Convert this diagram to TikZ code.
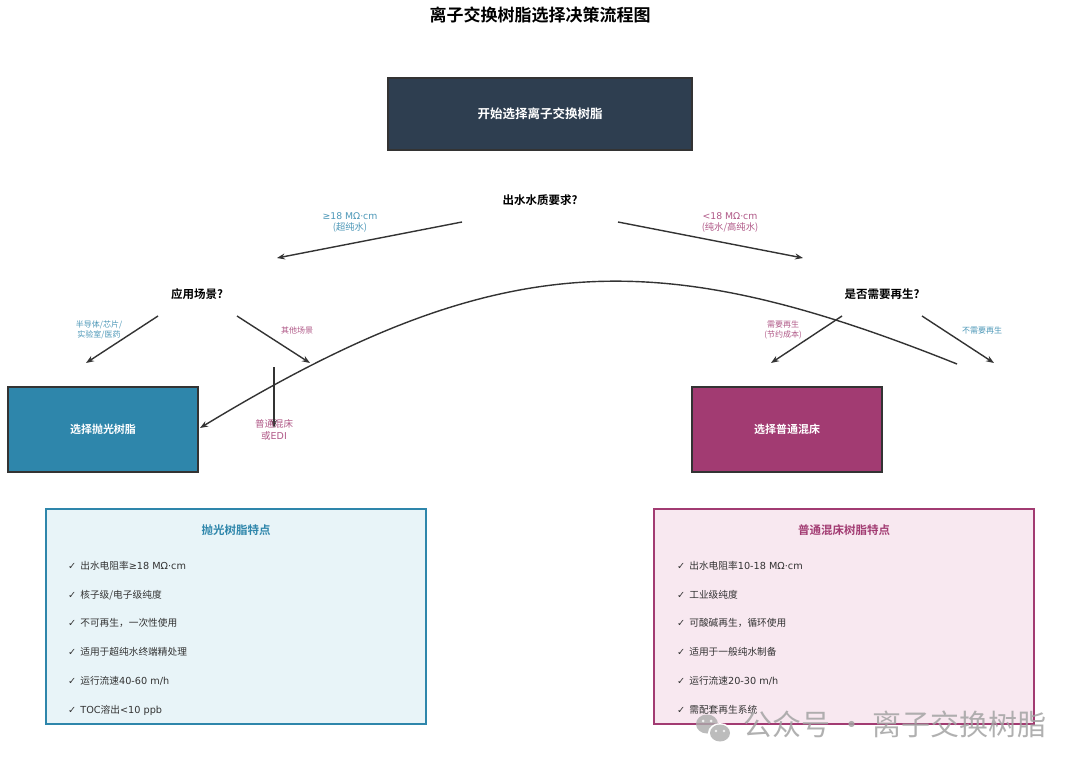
\documentclass[tikz,border=0pt]{standalone}
\usepackage{fontspec}
\setmainfont{Noto Sans CJK SC}[BoldFont={Noto Sans CJK SC Bold}]
\newfontfamily\djv{DejaVu Sans}
\usetikzlibrary{arrows.meta}
\definecolor{cblue}{HTML}{2E86AB}
\definecolor{cmag}{HTML}{A23B72}
\definecolor{cdark}{HTML}{2E3E50}
\definecolor{cline}{HTML}{333333}
\definecolor{lblue}{HTML}{E8F4F8}
\definecolor{lmag}{HTML}{F8E8F0}
\definecolor{ctext}{HTML}{333333}
\newcommand{\lt}[1]{{\djv #1}}
\begin{document}
\begin{tikzpicture}[x=1pt,y=-1pt,
  solidbox/.style={draw=cline, line width=1.6pt, inner sep=0pt, text=white,
    font=\bfseries\fontsize{11}{13}\selectfont},
  infobox/.style={line width=2pt, inner sep=0pt, minimum width=380pt, minimum height=215pt},
  question/.style={font=\bfseries\fontsize{11.5}{13}\selectfont, text=black, inner sep=1pt},
  elabel/.style={font=\fontsize{9.3}{11}\selectfont, align=center, inner sep=0pt},
  slabel/.style={font=\fontsize{8}{10}\selectfont, align=center, inner sep=0pt},
  flow/.style={draw=cline, line width=1.4pt, -{Stealth[length=8pt,width=6pt]}},
  item/.style={font=\fontsize{9.7}{11}\selectfont, text=ctext, anchor=west, inner sep=0pt},
  infotitle/.style={font=\bfseries\fontsize{11.5}{13}\selectfont, inner sep=0pt}
]
\useasboundingbox[fill=white] (0,0) rectangle (1080,768);

% title
\node[font=\bfseries\fontsize{17}{20}\selectfont, text=black] (title) at (540,15) {离子交换树脂选择决策流程图};

% start
\node[solidbox, fill=cdark, minimum width=304pt, minimum height=72pt, font=\bfseries\fontsize{12.5}{14}\selectfont] (start) at (540,114) {开始选择离子交换树脂};

% questions
\node[question] (q1) at (540,200) {出水水质要求?};
\node[question] (q2) at (197,294) {应用场景?};
\node[question] (q3) at (882,294) {是否需要再生?};

% result boxes
\node[solidbox, fill=cblue, minimum width=190pt, minimum height=85pt] (polish) at (103,429.5) {选择抛光树脂};
\node[solidbox, fill=cmag, minimum width=190pt, minimum height=85pt] (mixbed) at (787,429.5) {选择普通混床};

% connector coordinates
\coordinate (q1l) at (462,222); \coordinate (q1le) at (277,258);
\coordinate (q1r) at (618,222); \coordinate (q1re) at (803,258);
\coordinate (q2l) at (158,316); \coordinate (q2le) at (86,363);
\coordinate (q2r) at (237,316); \coordinate (q2re) at (310,363);
\coordinate (v1) at (274,367); \coordinate (v1e) at (274,428);
\coordinate (q3l) at (842,316); \coordinate (q3le) at (771,363);
\coordinate (q3r) at (922,316); \coordinate (q3re) at (994,363);
\coordinate (cs) at (957,364); \coordinate (ce) at (200,428);

\draw[flow] (q1l) -- (q1le);
\draw[flow] (q1r) -- (q1re);
\draw[flow] (q2l) -- (q2le);
\draw[flow] (q2r) -- (q2re);
\draw[flow] (v1) -- (v1e);
\draw[flow] (q3l) -- (q3le);
\draw[flow] (q3r) -- (q3re);
\draw[flow] (cs) .. controls (657,244) and (500,246) .. (ce);

% labels
\node[elabel, text=cblue!85] (l1) at (350,222) {\lt{≥18 MΩ·cm}\\(超纯水)};
\node[elabel, text=cmag!85] (l2) at (730,222) {\lt{<18 MΩ·cm}\\(纯水/高纯水)};
\node[slabel, text=cblue!85] (l3) at (99,330) {半导体/芯片/\\实验室/医药};
\node[slabel, text=cmag!85] (l4) at (297,330) {其他场景};
\node[elabel, text=cmag!85, font=\fontsize{9.5}{11.5}\selectfont] (l5) at (274,430) {普通混床\\或\lt{EDI}};
\node[slabel, text=cmag!85] (l6) at (783,330) {需要再生\\(节约成本)};
\node[slabel, text=cblue!85] (l7) at (982,330) {不需要再生};

% info boxes
\node[infobox, draw=cblue, fill=lblue] (info1) at (236,616.5) {};
\node[infobox, draw=cmag, fill=lmag] (info2) at (844,616.5) {};
\node[infotitle, text=cblue] (t1) at (236,530) {抛光树脂特点};
\node[infotitle, text=cmag] (t2) at (844,530) {普通混床树脂特点};

\foreach \y/\t [count=\i] in {566/{出水电阻率\lt{≥18 MΩ·cm}}, 595/{核子级/电子级纯度}, 623/{不可再生，一次性使用}, 652/{适用于超纯水终端精处理}, 681/{运行流速\lt{40-60 m/h}}, 710/{\lt{TOC}溶出\lt{<10 ppb}}}
  \node[item] (a\i) at (68,\y) {\lt{✓}\hspace{4pt}\t};
\foreach \y/\t [count=\i] in {566/{出水电阻率\lt{10-18 MΩ·cm}}, 595/{工业级纯度}, 623/{可酸碱再生，循环使用}, 652/{适用于一般纯水制备}, 681/{运行流速\lt{20-30 m/h}}, 710/{需配套再生系统}}
  \node[item] (b\i) at (677,\y) {\lt{✓}\hspace{4pt}\t};

% watermark
\fill[gray!65, opacity=0.8] (707,724) ellipse (11pt and 9.5pt);
\fill[white] (720,733) ellipse (12pt and 10pt);
\fill[gray!65, opacity=0.8] (720,733) ellipse (10pt and 8.5pt);
\fill[white, opacity=0.8] (703,721) circle (1.5pt) (711,721) circle (1.5pt)
  (716,731) circle (1.3pt) (724,731) circle (1.3pt);
\node[font=\fontsize{29}{32}\selectfont, text=gray!72, opacity=0.85, inner sep=0pt] (wm) at (895,724) {公众号 · 离子交换树脂};
\end{tikzpicture}
\end{document}
